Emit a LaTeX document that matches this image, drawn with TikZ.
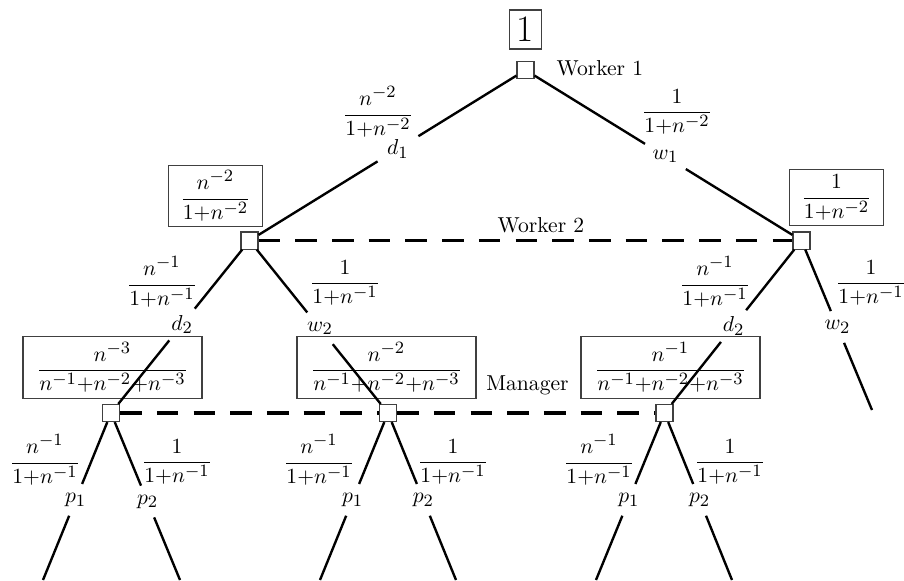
\documentclass[tikz,border=0pt]{standalone}
\usepackage{amsmath}
\DeclareMathSizes{10}{10}{8}{6}
\usetikzlibrary{calc}
\begin{document}
\medmuskip=0mu
\begin{tikzpicture}[x=0.463pt,y=-0.463pt,
  sq/.style={draw=black!75, fill=white, minimum size=7.9pt, inner sep=0pt, line width=0.5pt},
  bx/.style={draw=black!75, line width=0.5pt, inner xsep=5.3pt, inner ysep=2.5pt},
  bxw/.style={bx, minimum width=82.9pt},
  act/.style={inner sep=0pt, minimum width=18.5pt, minimum height=14.3pt},
  edge/.style={line width=1.1pt},
  info/.style={line width=1.5pt, dash pattern=on 10pt off 7pt},
  prob/.style={inner sep=0pt},
]
\useasboundingbox (0,0) rectangle (904,580);

% decision nodes
\node[sq] (s0) at (525.5,70) {};
\node[sq] (s1l) at (249.5,240.5) {};
\node[sq] (s1r) at (801.5,240.5) {};
\node[sq] (s2a) at (111,413) {};
\node[sq] (s2b) at (388,413) {};
\node[sq] (s2c) at (664.5,413) {};
\coordinate (e1) at (872,410);
\coordinate (la1) at (43,580);
\coordinate (la2) at (180,580);
\coordinate (lb1) at (320,580);
\coordinate (lb2) at (456,580);
\coordinate (lc1) at (596,580);
\coordinate (lc2) at (732,580);

% belief boxes
\node[bx, inner sep=3.33pt] (b0) at (525.5,29.5) {\LARGE 1};
\node[bx] (b1l) at (215.5,196) {$\dfrac{n^{-2}}{1+n^{-2}}$};
\node[bx] (b1r) at (836.5,197.5) {$\dfrac{1}{1+n^{-2}}$};
\node[bxw] (b2a) at (112.5,367.5) {$\dfrac{n^{-3}}{n^{-1}+n^{-2}+n^{-3}}$};
\node[bxw] (b2b) at (386.5,367.5) {$\dfrac{n^{-2}}{n^{-1}+n^{-2}+n^{-3}}$};
\node[bxw] (b2c) at (670.5,367.5) {$\dfrac{n^{-1}}{n^{-1}+n^{-2}+n^{-3}}$};

% player labels
\node[anchor=west] (pw1) at (549,68) {Worker 1};
\node (pw2) at (541,225) {Worker 2};
\node (pm) at (527.5,385) {Manager};

% action labels
\node[act] (d1) at ($(s0)!0.462!(s1l)$) {$d_1$};
\node[act] (w1) at ($(s0)!0.507!(s1r)$) {$w_1$};
\node[act] (d2l) at ($(s1l)!0.487!(s2a)$) {$d_2$};
\node[act] (w2l) at ($(s1l)!0.509!(s2b)$) {$w_2$};
\node[act] (d2r) at ($(s1r)!0.496!(s2c)$) {$d_2$};
\node[act] (w2r) at ($(s1r)!0.51!(e1)$) {$w_2$};
\node[act] (p1a) at ($(s2a)!0.52!(la1)$) {$p_1$};
\node[act] (p2a) at ($(s2a)!0.53!(la2)$) {$p_2$};
\node[act] (p1b) at ($(s2b)!0.52!(lb1)$) {$p_1$};
\node[act] (p2b) at ($(s2b)!0.52!(lb2)$) {$p_2$};
\node[act] (p1c) at ($(s2c)!0.52!(lc1)$) {$p_1$};
\node[act] (p2c) at ($(s2c)!0.52!(lc2)$) {$p_2$};

% probabilities
\node[prob] (q1l) at (378,112) {$\dfrac{n^{-2}}{1+n^{-2}}$};
\node[prob] (q1r) at (677,112) {$\dfrac{1}{1+n^{-2}}$};
\node[prob] (q2a) at (162,282) {$\dfrac{n^{-1}}{1+n^{-1}}$};
\node[prob] (q2b) at (345,283) {$\dfrac{1}{1+n^{-1}}$};
\node[prob] (q2c) at (715,282) {$\dfrac{n^{-1}}{1+n^{-1}}$};
\node[prob] (q2d) at (871,283) {$\dfrac{1}{1+n^{-1}}$};
\node[prob] (q3a) at (45,460) {$\dfrac{n^{-1}}{1+n^{-1}}$};
\node[prob] (q3b) at (177,462) {$\dfrac{1}{1+n^{-1}}$};
\node[prob] (q3c) at (319,460) {$\dfrac{n^{-1}}{1+n^{-1}}$};
\node[prob] (q3d) at (453,462) {$\dfrac{1}{1+n^{-1}}$};
\node[prob] (q3e) at (599,460) {$\dfrac{n^{-1}}{1+n^{-1}}$};
\node[prob] (q3f) at (730,462) {$\dfrac{1}{1+n^{-1}}$};

% edges
\draw[edge] (s0) -- (d1) -- (s1l);
\draw[edge] (s0) -- (w1) -- (s1r);
\draw[edge] (s1l) -- (d2l) -- (s2a);
\draw[edge] (s1l) -- (w2l) -- (s2b);
\draw[edge] (s1r) -- (d2r) -- (s2c);
\draw[edge] (s1r) -- (w2r) -- (e1);
\draw[edge] (s2a) -- (p1a) -- (la1);
\draw[edge] (s2a) -- (p2a) -- (la2);
\draw[edge] (s2b) -- (p1b) -- (lb1);
\draw[edge] (s2b) -- (p2b) -- (lb2);
\draw[edge] (s2c) -- (p1c) -- (lc1);
\draw[edge] (s2c) -- (p2c) -- (lc2);

% information sets
\draw[info] (s1l) -- (s1r);
\draw[info] (s2a) -- (s2b);
\draw[info] (s2b) -- (s2c);
\end{tikzpicture}
\end{document}
